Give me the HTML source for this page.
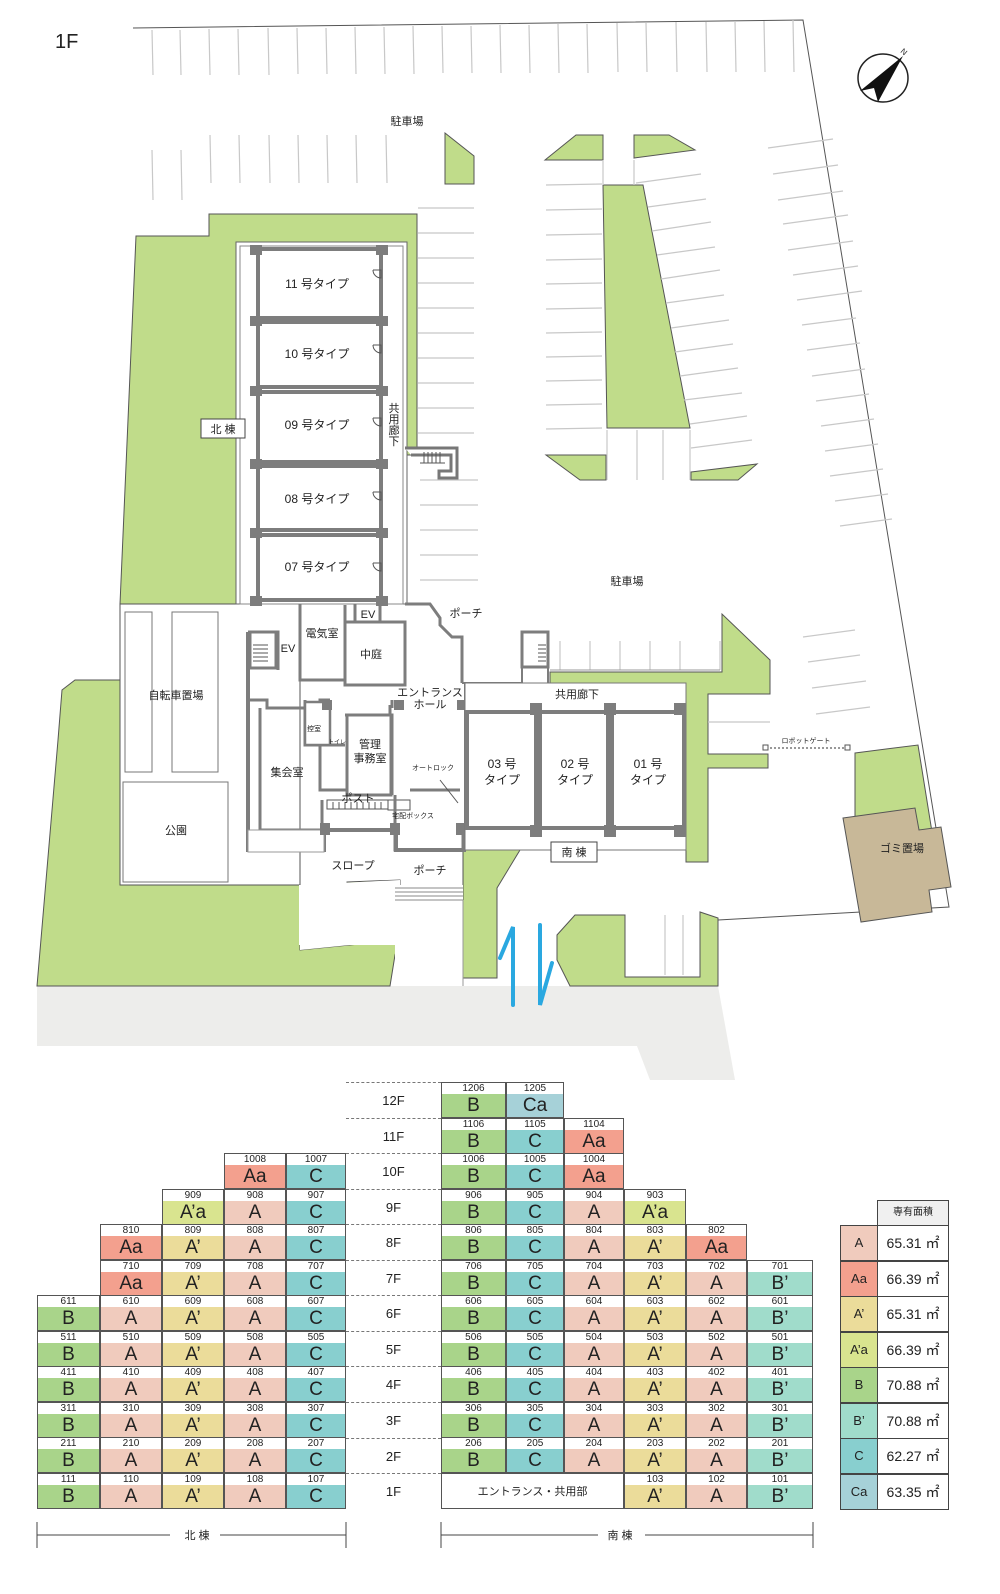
<!DOCTYPE html>
<html><head><meta charset="utf-8">
<style>
body{margin:0;background:#fff;width:1000px;height:1594px;position:relative;overflow:hidden;font-family:"Liberation Sans","Noto Sans CJK JP",sans-serif;color:#222}
svg{position:absolute;left:0;top:0}
svg text{font-family:"Liberation Sans","Noto Sans CJK JP",sans-serif;fill:#222}
.grid{position:absolute;display:grid;grid-template-rows:repeat(12,35.55px)}
.c{box-sizing:border-box;border:1px solid #555;background:#fff;display:flex;flex-direction:column;text-align:center}
.c i{font-style:normal;font-size:10px;line-height:11px;height:11px;background:#fff}
.c b{font-weight:normal;flex:1;font-size:19px;line-height:23px}
.A b{background:#f0cbbd}.Aa b{background:#f3a08e}.Ap b{background:#ebdc9a}.Apa b{background:#d9e48f}
.B b{background:#a9d48a}.Bp b{background:#a0dccb}.C b{background:#88cfcf}.Ca b{background:#a6d1d8}
.fl{position:absolute;left:346px;width:95px;text-align:center;font-size:13px;line-height:35px}
.dl{position:absolute;left:346px;width:95px;border-top:1.5px dashed #777}
.lg{position:absolute;left:840px;top:1200px;width:110px}
.lg div{box-sizing:border-box;position:absolute;border:1px solid #444}
</style></head><body>
<svg width="1000" height="1594" viewBox="0 0 1000 1594">
<polygon points="37,986 718,986 735,1080 650,1080 637,1046 37,1046" fill="#ededeb"/>
<polyline points="133,28 803,20 949,907 718,920" fill="none" stroke="#555" stroke-width="1"/>
<g fill="#c0dc8a" stroke="#555" stroke-width="1">
<polygon points="136,236 209,236 209,214 417,214 417,455 407,455 407,604 120,604 120,680 75,680 62,690 58,740 37,986 390,986 395,955 400,940 300,950 300,885 120,885 120,604"/>
<polygon points="445,133 474,156 474,184 445,184"/>
<polygon points="545,160 576,135 603,135 603,160"/>
<polygon points="634,135 669,135 695,150 634,158"/>
<polygon points="603,185 643,185 690,428 607,428"/>
<polygon points="546,455 606,455 606,480 580,480"/>
<polygon points="691,472 757,464 738,480 691,480"/>
<polygon points="550,672 722,672 722,614 770,660 770,694 708,694 708,754 768,754 768,768 708,768 708,862 686,862 686,685 550,685"/>
<polygon points="855,753 918,745 932,832 855,845"/>
<polygon points="463,850 520,850 497,888 497,978 463,978"/>
<polygon points="575,915 625,915 625,977 700,977 700,912 718,918 718,986 570,986 557,960 557,935"/>
<polygon points="347,882 400,880 400,897 347,897"/>
</g>
<rect x="120" y="604" width="180" height="281" fill="#fff" stroke="#555"/>
<rect x="299" y="885" width="101" height="60" fill="#fff"/>
<polygon points="300,885 400,880 400,940 300,950" fill="#fff"/>
<polygon points="395,885 463,885 463,986 395,986" fill="#fff"/>
<polygon points="843,818 915,808 919,830 941,827 951,887 929,890 932,912 861,922" fill="#c8b898" stroke="#555"/>
<text x="880" y="852" font-size="11">ゴミ置場</text>
<g stroke="#c8c8c8" stroke-width="1.2">
<line x1="152" y1="30" x2="153" y2="75"/><line x1="180" y1="30" x2="181" y2="75"/><line x1="209" y1="29" x2="210" y2="75"/><line x1="238" y1="29" x2="239" y2="75"/><line x1="268" y1="28" x2="269" y2="75"/><line x1="297" y1="28" x2="298" y2="74"/><line x1="326" y1="28" x2="327" y2="74"/><line x1="355" y1="27" x2="356" y2="74"/><line x1="384" y1="27" x2="385" y2="74"/><line x1="413" y1="26" x2="414" y2="74"/><line x1="442" y1="26" x2="443" y2="73"/><line x1="471" y1="26" x2="472" y2="73"/><line x1="500" y1="25" x2="501" y2="73"/><line x1="529" y1="25" x2="530" y2="73"/><line x1="558" y1="24" x2="559" y2="73"/><line x1="587" y1="24" x2="588" y2="73"/><line x1="617" y1="23" x2="618" y2="72"/><line x1="646" y1="23" x2="647" y2="72"/><line x1="676" y1="22" x2="677" y2="72"/><line x1="706" y1="22" x2="707" y2="72"/><line x1="735" y1="21" x2="736" y2="72"/><line x1="764" y1="21" x2="765" y2="72"/><line x1="793" y1="20" x2="794" y2="72"/>
<line x1="152" y1="150" x2="153" y2="200"/><line x1="181" y1="150" x2="182" y2="200"/><line x1="210" y1="135" x2="211" y2="183"/><line x1="239" y1="135" x2="240" y2="183"/><line x1="269" y1="135" x2="270" y2="183"/><line x1="298" y1="135" x2="299" y2="183"/><line x1="327" y1="135" x2="328" y2="183"/><line x1="356" y1="135" x2="357" y2="183"/><line x1="386" y1="135" x2="387" y2="183"/>
<line x1="418" y1="208" x2="474" y2="208"/><line x1="418" y1="233" x2="474" y2="233"/><line x1="418" y1="258" x2="474" y2="258"/><line x1="418" y1="283" x2="474" y2="283"/><line x1="418" y1="308" x2="474" y2="308"/><line x1="418" y1="333" x2="474" y2="333"/><line x1="418" y1="358" x2="474" y2="358"/><line x1="418" y1="383" x2="474" y2="383"/><line x1="418" y1="408" x2="474" y2="408"/><line x1="418" y1="433" x2="474" y2="433"/>
<line x1="420" y1="480" x2="478" y2="480"/><line x1="420" y1="505" x2="478" y2="505"/><line x1="420" y1="530" x2="478" y2="530"/><line x1="420" y1="555" x2="478" y2="555"/><line x1="420" y1="580" x2="478" y2="580"/>
<line x1="546" y1="185" x2="602" y2="184"/><line x1="546" y1="210" x2="602" y2="209"/><line x1="546" y1="235" x2="602" y2="234"/><line x1="546" y1="260" x2="602" y2="259"/><line x1="546" y1="284" x2="602" y2="283"/><line x1="546" y1="309" x2="602" y2="308"/><line x1="546" y1="333" x2="602" y2="332"/><line x1="546" y1="357" x2="602" y2="356"/><line x1="546" y1="381" x2="602" y2="380"/><line x1="546" y1="405" x2="602" y2="404"/><line x1="546" y1="429" x2="602" y2="428"/>
<line x1="603" y1="160" x2="603" y2="185"/><line x1="634" y1="160" x2="634" y2="185"/>
<line x1="607" y1="430" x2="607" y2="480"/><line x1="637" y1="430" x2="637" y2="480"/><line x1="663" y1="430" x2="663" y2="480"/><line x1="690" y1="430" x2="690" y2="480"/>
<line x1="636" y1="183" x2="701" y2="174"/><line x1="648" y1="207" x2="706" y2="199"/><line x1="652" y1="231" x2="711" y2="222"/><line x1="657" y1="255" x2="715" y2="247"/><line x1="661" y1="279" x2="720" y2="270"/><line x1="666" y1="303" x2="724" y2="295"/><line x1="671" y1="328" x2="729" y2="320"/><line x1="675" y1="352" x2="733" y2="344"/><line x1="680" y1="376" x2="738" y2="368"/><line x1="684" y1="400" x2="742" y2="393"/><line x1="690" y1="424" x2="747" y2="416"/><line x1="691" y1="448" x2="752" y2="440"/>
<line x1="768" y1="148" x2="833" y2="139"/><line x1="773" y1="174" x2="838" y2="165"/><line x1="778" y1="200" x2="843" y2="191"/><line x1="783" y1="224" x2="848" y2="215"/><line x1="788" y1="250" x2="853" y2="241"/><line x1="793" y1="275" x2="858" y2="266"/><line x1="797" y1="300" x2="862" y2="291"/><line x1="802" y1="325" x2="856" y2="318"/><line x1="807" y1="350" x2="860" y2="343"/><line x1="812" y1="376" x2="865" y2="369"/><line x1="816" y1="401" x2="869" y2="394"/><line x1="821" y1="426" x2="874" y2="419"/><line x1="825" y1="451" x2="878" y2="444"/><line x1="830" y1="476" x2="883" y2="469"/><line x1="835" y1="501" x2="888" y2="494"/><line x1="840" y1="526" x2="892" y2="519"/><line x1="803" y1="637" x2="855" y2="630"/><line x1="808" y1="662" x2="860" y2="655"/><line x1="812" y1="688" x2="866" y2="681"/><line x1="816" y1="714" x2="870" y2="707"/>
<line x1="560" y1="641" x2="560" y2="670"/><line x1="590" y1="641" x2="590" y2="670"/><line x1="620" y1="641" x2="620" y2="670"/><line x1="650" y1="641" x2="650" y2="670"/><line x1="680" y1="641" x2="680" y2="670"/><line x1="720" y1="641" x2="720" y2="670"/>
<line x1="708" y1="722" x2="770" y2="722"/><line x1="665" y1="915" x2="665" y2="975"/><line x1="683" y1="915" x2="683" y2="975"/>
</g>
<line x1="550" y1="670" x2="720" y2="670" stroke="#999"/>
<rect x="125" y="612" width="27" height="160" fill="#fff" stroke="#777"/>
<rect x="172" y="612" width="46" height="160" fill="#fff" stroke="#777"/>
<rect x="123" y="782" width="105" height="100" fill="#fff" stroke="#777"/>
<rect x="236" y="242" width="171" height="362" fill="#fff" stroke="#666"/>
<rect x="240" y="246" width="163" height="358" fill="#fff" stroke="#888"/>
<g fill="#fff" stroke="#7d7d7d" stroke-width="4">
<rect x="258" y="249" width="123" height="69"/>
<rect x="258" y="322" width="123" height="65"/>
<rect x="258" y="392" width="123" height="70"/>
<rect x="258" y="466" width="123" height="64"/>
<rect x="258" y="535" width="123" height="65"/>
</g>
<g fill="#7d7d7d">
<rect x="250" y="245" width="12" height="10"/><rect x="376" y="245" width="12" height="10"/>
<rect x="250" y="316" width="12" height="10"/><rect x="376" y="316" width="12" height="10"/>
<rect x="250" y="386" width="12" height="10"/><rect x="376" y="386" width="12" height="10"/>
<rect x="250" y="459" width="12" height="10"/><rect x="376" y="459" width="12" height="10"/>
<rect x="250" y="528" width="12" height="10"/><rect x="376" y="528" width="12" height="10"/>
<rect x="250" y="596" width="12" height="10"/><rect x="376" y="596" width="12" height="10"/>
</g>
<g fill="none" stroke="#555" stroke-width="1">
<path d="M373,270 h8 v8 a8,8 0 0 1 -8,-8"/><path d="M373,345 h8 v8 a8,8 0 0 1 -8,-8"/><path d="M373,418 h8 v8 a8,8 0 0 1 -8,-8"/><path d="M373,492 h8 v8 a8,8 0 0 1 -8,-8"/><path d="M373,563 h8 v8 a8,8 0 0 1 -8,-8"/>
</g>
<path d="M405,448 h52 v30 h-18 v-7 h12 v-16 h-40" fill="#fff" stroke="#777" stroke-width="3"/>
<g stroke="#555"><line x1="424" y1="452" x2="424" y2="463"/><line x1="428" y1="452" x2="428" y2="463"/><line x1="432" y1="452" x2="432" y2="463"/><line x1="436" y1="452" x2="436" y2="463"/><line x1="440" y1="452" x2="440" y2="463"/><line x1="420" y1="463" x2="445" y2="463"/></g>
<path d="M248,632 v218 h76 v-20 h72 v20 h68 v-20 h2 V683" fill="none" stroke="#7d7d7d" stroke-width="4"/>
<path d="M248,632 h30 v38 M300,604 v76 h45 v5 h60 v-63 h-60 v-17 M355,604 v18 M380,604 v18" fill="none" stroke="#7d7d7d" stroke-width="3"/>
<rect x="345" y="622" width="60" height="63" fill="#fff" stroke="#7d7d7d" stroke-width="3"/>
<rect x="250" y="632" width="26" height="36" fill="#fff" stroke="#7d7d7d" stroke-width="3"/>
<g stroke="#555"><line x1="253" y1="645" x2="268" y2="645"/><line x1="253" y1="649" x2="268" y2="649"/><line x1="253" y1="653" x2="268" y2="653"/><line x1="253" y1="657" x2="268" y2="657"/><line x1="253" y1="661" x2="268" y2="661"/></g>
<path d="M405,604 h25 l10,14 v7 l12,12 h10 v46" fill="none" stroke="#7d7d7d" stroke-width="3"/>
<path d="M249,700 h18 v8 h53 v-8 h10 M260,708 v122 h62 v-30 M320,720 v70 h70 v-85 M305,700 v45 h40 M345,715 h47 v80 M392,700 v8" fill="none" stroke="#7d7d7d" stroke-width="3"/>
<rect x="347" y="715" width="44" height="80" fill="#fff" stroke="#7d7d7d" stroke-width="3"/>
<rect x="305" y="702" width="25" height="43" fill="#fff" stroke="#7d7d7d" stroke-width="2.5"/>
<rect x="327" y="800" width="63" height="9" fill="#fff" stroke="#555"/>
<g stroke="#555"><line x1="333" y1="802" x2="333" y2="809"/><line x1="339" y1="802" x2="339" y2="809"/><line x1="345" y1="802" x2="345" y2="809"/><line x1="351" y1="802" x2="351" y2="809"/><line x1="357" y1="802" x2="357" y2="809"/><line x1="363" y1="802" x2="363" y2="809"/><line x1="369" y1="802" x2="369" y2="809"/><line x1="375" y1="802" x2="375" y2="809"/><line x1="381" y1="802" x2="381" y2="809"/></g>
<rect x="388" y="800" width="22" height="10" fill="#fff" stroke="#555"/>
<path d="M410,790 h50 M395,795 v55 h68 v-20" fill="none" stroke="#7d7d7d" stroke-width="3"/>
<line x1="440" y1="780" x2="458" y2="803" stroke="#555"/>
<rect x="248" y="830" width="76" height="22" fill="#fff" stroke="#999"/>
<rect x="320" y="823" width="10" height="12" fill="#7d7d7d"/><rect x="390" y="823" width="10" height="12" fill="#7d7d7d"/><rect x="456" y="823" width="10" height="12" fill="#7d7d7d"/>
<rect x="322" y="700" width="10" height="10" fill="#7d7d7d"/><rect x="394" y="700" width="10" height="10" fill="#7d7d7d"/><rect x="457" y="700" width="10" height="10" fill="#7d7d7d"/>
<rect x="522" y="632" width="26" height="35" fill="#fff" stroke="#7d7d7d" stroke-width="3"/>
<g stroke="#555"><line x1="538" y1="645" x2="546" y2="645"/><line x1="538" y1="649" x2="546" y2="649"/><line x1="538" y1="653" x2="546" y2="653"/><line x1="538" y1="657" x2="546" y2="657"/><line x1="538" y1="661" x2="546" y2="661"/></g>
<path d="M462,683 h60 v-16 M548,632 v51" fill="none" stroke="#7d7d7d" stroke-width="2"/>
<rect x="465" y="683" width="221" height="167" fill="#fff" stroke="#777"/>
<g fill="#fff" stroke="#7d7d7d" stroke-width="4">
<rect x="467" y="712" width="69" height="116"/>
<rect x="540" y="712" width="68" height="116"/>
<rect x="612" y="712" width="72" height="116"/>
</g>
<g fill="#7d7d7d">
<rect x="530" y="703" width="12" height="12"/><rect x="604" y="703" width="12" height="12"/><rect x="674" y="703" width="12" height="12"/>
<rect x="530" y="825" width="12" height="12"/><rect x="604" y="825" width="12" height="12"/><rect x="674" y="825" width="12" height="12"/>
</g>
<line x1="766" y1="748" x2="848" y2="748" stroke="#777" stroke-width="1.5" stroke-dasharray="2,2"/>
<rect x="763" y="745" width="5" height="5" fill="#fff" stroke="#555"/><rect x="845" y="745" width="5" height="5" fill="#fff" stroke="#555"/>
<text x="806" y="743" font-size="7" text-anchor="middle">ロボットゲート</text>
<g stroke="#888"><line x1="395" y1="888" x2="463" y2="888"/><line x1="395" y1="892" x2="463" y2="892"/><line x1="395" y1="896" x2="463" y2="896"/><line x1="395" y1="900" x2="463" y2="900"/></g>
<line x1="463" y1="900" x2="463" y2="986" stroke="#999"/>
<g stroke="#2aa8e0" stroke-width="4" fill="none" stroke-linecap="round"><polyline points="500,958 513,927 513,1005"/><polyline points="540,925 540,1005 552,963"/></g>
<ellipse cx="883" cy="78" rx="25" ry="24" fill="#fff" stroke="#222" stroke-width="1.5"/>
<polygon points="903,56 878,102 874,88 860,91" fill="#111"/>
<text x="900" y="52" font-size="8" transform="rotate(40 900 52)">N</text>
<text x="55" y="48" font-size="20" font-family="Liberation Sans">1F</text>
<g font-size="11" text-anchor="middle">
<text x="407" y="125">駐車場</text><text x="627" y="585">駐車場</text>
<text x="317" y="288" font-size="12">11 号タイプ</text><text x="317" y="358" font-size="12">10 号タイプ</text><text x="317" y="429" font-size="12">09 号タイプ</text><text x="317" y="503" font-size="12">08 号タイプ</text><text x="317" y="571" font-size="12">07 号タイプ</text>
<text x="394" y="412">共</text><text x="394" y="423">用</text><text x="394" y="434">廊</text><text x="394" y="445">下</text>
<text x="466" y="617">ポーチ</text><text x="368" y="618">EV</text><text x="322" y="637">電気室</text><text x="371" y="658">中庭</text><text x="288" y="652">EV</text>
<text x="430" y="696">エントランス</text><text x="430" y="708">ホール</text><text x="577" y="698">共用廊下</text>
<text x="176" y="699">自転車置場</text><text x="287" y="776">集会室</text><text x="314" y="731" font-size="7">控室</text><text x="337" y="744" font-size="6">トイレ</text>
<text x="370" y="748">管理</text><text x="370" y="762">事務室</text><text x="433" y="770" font-size="7">オートロック</text>
<text x="502" y="768" font-size="12">03 号</text><text x="502" y="784" font-size="12">タイプ</text>
<text x="575" y="768" font-size="12">02 号</text><text x="575" y="784" font-size="12">タイプ</text>
<text x="648" y="768" font-size="12">01 号</text><text x="648" y="784" font-size="12">タイプ</text>
<text x="358" y="802">ポスト</text><text x="413" y="818" font-size="7">宅配ボックス</text><text x="176" y="834">公園</text>
<text x="353" y="869">スロープ</text><text x="430" y="874">ポーチ</text>
</g>
<rect x="201" y="419" width="44" height="19" fill="#fff" stroke="#444"/><text x="223" y="433" font-size="11" text-anchor="middle">北 棟</text>
<rect x="551" y="842" width="46" height="20" fill="#fff" stroke="#444"/><text x="574" y="856" font-size="11" text-anchor="middle">南 棟</text>
<g stroke="#444" stroke-width="1"><line x1="37" y1="1535" x2="170" y2="1535"/><line x1="220" y1="1535" x2="346" y2="1535"/><line x1="37" y1="1522" x2="37" y2="1548"/><line x1="346" y1="1522" x2="346" y2="1548"/>
<line x1="441" y1="1535" x2="598" y2="1535"/><line x1="645" y1="1535" x2="813" y2="1535"/><line x1="441" y1="1522" x2="441" y2="1548"/><line x1="813" y1="1522" x2="813" y2="1548"/></g>
<text x="197" y="1539" font-size="11" text-anchor="middle">北 棟</text><text x="620" y="1539" font-size="11" text-anchor="middle">南 棟</text>
</svg>

<div class="dl" style="top:1082px"></div><div class="dl" style="top:1117.5px"></div><div class="dl" style="top:1153px"></div><div class="dl" style="top:1188.6px"></div><div class="dl" style="top:1224px"></div><div class="dl" style="top:1259.7px"></div><div class="dl" style="top:1295.3px"></div><div class="dl" style="top:1330.8px"></div><div class="dl" style="top:1366.4px"></div><div class="dl" style="top:1402px"></div><div class="dl" style="top:1437.5px"></div><div class="dl" style="top:1473px"></div>
<div class="fl" style="top:1083px">12F</div><div class="fl" style="top:1118.5px">11F</div><div class="fl" style="top:1154px">10F</div><div class="fl" style="top:1189.6px">9F</div><div class="fl" style="top:1225px">8F</div><div class="fl" style="top:1260.7px">7F</div><div class="fl" style="top:1296.3px">6F</div><div class="fl" style="top:1331.8px">5F</div><div class="fl" style="top:1367.4px">4F</div><div class="fl" style="top:1403px">3F</div><div class="fl" style="top:1438.5px">2F</div><div class="fl" style="top:1474px">1F</div>

<div class="grid" style="left:37px;top:1082px;grid-template-columns:63px 62px 62px 62px 60px">
<div class="c Aa" style="grid-area:3/4"><i>1008</i><b>Aa</b></div><div class="c C" style="grid-area:3/5"><i>1007</i><b>C</b></div>
<div class="c Apa" style="grid-area:4/3"><i>909</i><b>A’a</b></div><div class="c A" style="grid-area:4/4"><i>908</i><b>A</b></div><div class="c C" style="grid-area:4/5"><i>907</i><b>C</b></div>
<div class="c Aa" style="grid-area:5/2"><i>810</i><b>Aa</b></div><div class="c Ap" style="grid-area:5/3"><i>809</i><b>A’</b></div><div class="c A" style="grid-area:5/4"><i>808</i><b>A</b></div><div class="c C" style="grid-area:5/5"><i>807</i><b>C</b></div>
<div class="c Aa" style="grid-area:6/2"><i>710</i><b>Aa</b></div><div class="c Ap" style="grid-area:6/3"><i>709</i><b>A’</b></div><div class="c A" style="grid-area:6/4"><i>708</i><b>A</b></div><div class="c C" style="grid-area:6/5"><i>707</i><b>C</b></div>
<div class="c B" style="grid-area:7/1"><i>611</i><b>B</b></div><div class="c A" style="grid-area:7/2"><i>610</i><b>A</b></div><div class="c Ap" style="grid-area:7/3"><i>609</i><b>A’</b></div><div class="c A" style="grid-area:7/4"><i>608</i><b>A</b></div><div class="c C" style="grid-area:7/5"><i>607</i><b>C</b></div>
<div class="c B" style="grid-area:8/1"><i>511</i><b>B</b></div><div class="c A" style="grid-area:8/2"><i>510</i><b>A</b></div><div class="c Ap" style="grid-area:8/3"><i>509</i><b>A’</b></div><div class="c A" style="grid-area:8/4"><i>508</i><b>A</b></div><div class="c C" style="grid-area:8/5"><i>505</i><b>C</b></div>
<div class="c B" style="grid-area:9/1"><i>411</i><b>B</b></div><div class="c A" style="grid-area:9/2"><i>410</i><b>A</b></div><div class="c Ap" style="grid-area:9/3"><i>409</i><b>A’</b></div><div class="c A" style="grid-area:9/4"><i>408</i><b>A</b></div><div class="c C" style="grid-area:9/5"><i>407</i><b>C</b></div>
<div class="c B" style="grid-area:10/1"><i>311</i><b>B</b></div><div class="c A" style="grid-area:10/2"><i>310</i><b>A</b></div><div class="c Ap" style="grid-area:10/3"><i>309</i><b>A’</b></div><div class="c A" style="grid-area:10/4"><i>308</i><b>A</b></div><div class="c C" style="grid-area:10/5"><i>307</i><b>C</b></div>
<div class="c B" style="grid-area:11/1"><i>211</i><b>B</b></div><div class="c A" style="grid-area:11/2"><i>210</i><b>A</b></div><div class="c Ap" style="grid-area:11/3"><i>209</i><b>A’</b></div><div class="c A" style="grid-area:11/4"><i>208</i><b>A</b></div><div class="c C" style="grid-area:11/5"><i>207</i><b>C</b></div>
<div class="c B" style="grid-area:12/1"><i>111</i><b>B</b></div><div class="c A" style="grid-area:12/2"><i>110</i><b>A</b></div><div class="c Ap" style="grid-area:12/3"><i>109</i><b>A’</b></div><div class="c A" style="grid-area:12/4"><i>108</i><b>A</b></div><div class="c C" style="grid-area:12/5"><i>107</i><b>C</b></div>
</div>

<div class="grid" style="left:441px;top:1082px;grid-template-columns:65px 58px 60px 62px 61px 66px">
<div class="c B" style="grid-area:1/1"><i>1206</i><b>B</b></div><div class="c Ca" style="grid-area:1/2"><i>1205</i><b>Ca</b></div>
<div class="c B" style="grid-area:2/1"><i>1106</i><b>B</b></div><div class="c C" style="grid-area:2/2"><i>1105</i><b>C</b></div><div class="c Aa" style="grid-area:2/3"><i>1104</i><b>Aa</b></div>
<div class="c B" style="grid-area:3/1"><i>1006</i><b>B</b></div><div class="c C" style="grid-area:3/2"><i>1005</i><b>C</b></div><div class="c Aa" style="grid-area:3/3"><i>1004</i><b>Aa</b></div>
<div class="c B" style="grid-area:4/1"><i>906</i><b>B</b></div><div class="c C" style="grid-area:4/2"><i>905</i><b>C</b></div><div class="c A" style="grid-area:4/3"><i>904</i><b>A</b></div><div class="c Apa" style="grid-area:4/4"><i>903</i><b>A’a</b></div>
<div class="c B" style="grid-area:5/1"><i>806</i><b>B</b></div><div class="c C" style="grid-area:5/2"><i>805</i><b>C</b></div><div class="c A" style="grid-area:5/3"><i>804</i><b>A</b></div><div class="c Ap" style="grid-area:5/4"><i>803</i><b>A’</b></div><div class="c Aa" style="grid-area:5/5"><i>802</i><b>Aa</b></div>
<div class="c B" style="grid-area:6/1"><i>706</i><b>B</b></div><div class="c C" style="grid-area:6/2"><i>705</i><b>C</b></div><div class="c A" style="grid-area:6/3"><i>704</i><b>A</b></div><div class="c Ap" style="grid-area:6/4"><i>703</i><b>A’</b></div><div class="c A" style="grid-area:6/5"><i>702</i><b>A</b></div><div class="c Bp" style="grid-area:6/6"><i>701</i><b>B’</b></div>
<div class="c B" style="grid-area:7/1"><i>606</i><b>B</b></div><div class="c C" style="grid-area:7/2"><i>605</i><b>C</b></div><div class="c A" style="grid-area:7/3"><i>604</i><b>A</b></div><div class="c Ap" style="grid-area:7/4"><i>603</i><b>A’</b></div><div class="c A" style="grid-area:7/5"><i>602</i><b>A</b></div><div class="c Bp" style="grid-area:7/6"><i>601</i><b>B’</b></div>
<div class="c B" style="grid-area:8/1"><i>506</i><b>B</b></div><div class="c C" style="grid-area:8/2"><i>505</i><b>C</b></div><div class="c A" style="grid-area:8/3"><i>504</i><b>A</b></div><div class="c Ap" style="grid-area:8/4"><i>503</i><b>A’</b></div><div class="c A" style="grid-area:8/5"><i>502</i><b>A</b></div><div class="c Bp" style="grid-area:8/6"><i>501</i><b>B’</b></div>
<div class="c B" style="grid-area:9/1"><i>406</i><b>B</b></div><div class="c C" style="grid-area:9/2"><i>405</i><b>C</b></div><div class="c A" style="grid-area:9/3"><i>404</i><b>A</b></div><div class="c Ap" style="grid-area:9/4"><i>403</i><b>A’</b></div><div class="c A" style="grid-area:9/5"><i>402</i><b>A</b></div><div class="c Bp" style="grid-area:9/6"><i>401</i><b>B’</b></div>
<div class="c B" style="grid-area:10/1"><i>306</i><b>B</b></div><div class="c C" style="grid-area:10/2"><i>305</i><b>C</b></div><div class="c A" style="grid-area:10/3"><i>304</i><b>A</b></div><div class="c Ap" style="grid-area:10/4"><i>303</i><b>A’</b></div><div class="c A" style="grid-area:10/5"><i>302</i><b>A</b></div><div class="c Bp" style="grid-area:10/6"><i>301</i><b>B’</b></div>
<div class="c B" style="grid-area:11/1"><i>206</i><b>B</b></div><div class="c C" style="grid-area:11/2"><i>205</i><b>C</b></div><div class="c A" style="grid-area:11/3"><i>204</i><b>A</b></div><div class="c Ap" style="grid-area:11/4"><i>203</i><b>A’</b></div><div class="c A" style="grid-area:11/5"><i>202</i><b>A</b></div><div class="c Bp" style="grid-area:11/6"><i>201</i><b>B’</b></div>
<div class="c" style="grid-row:12;grid-column:1/4;justify-content:center;font-size:11px">エントランス・共用部</div><div class="c Ap" style="grid-area:12/4"><i>103</i><b>A’</b></div><div class="c A" style="grid-area:12/5"><i>102</i><b>A</b></div><div class="c Bp" style="grid-area:12/6"><i>101</i><b>B’</b></div>
</div>

<div class="lg">
<div style="left:37px;top:0;width:72px;height:26px;background:#f0f0f0;font-size:10px;text-align:center;line-height:24px">専有面積</div>
<div style="left:0;top:25px;width:38px;height:36px;background:#f0cbbd;text-align:center;line-height:34px;font-size:13px">A</div><div style="left:37px;top:25px;width:72px;height:36px;font-size:14px;text-align:center;line-height:34px">65.31 ㎡</div>
<div style="left:0;top:60.5px;width:38px;height:36px;background:#f3a08e;text-align:center;line-height:34px;font-size:13px">Aa</div><div style="left:37px;top:60.5px;width:72px;height:36px;font-size:14px;text-align:center;line-height:34px">66.39 ㎡</div>
<div style="left:0;top:96px;width:38px;height:36px;background:#ebdc9a;text-align:center;line-height:34px;font-size:13px">A’</div><div style="left:37px;top:96px;width:72px;height:36px;font-size:14px;text-align:center;line-height:34px">65.31 ㎡</div>
<div style="left:0;top:131.5px;width:38px;height:36px;background:#d9e48f;text-align:center;line-height:34px;font-size:13px">A’a</div><div style="left:37px;top:131.5px;width:72px;height:36px;font-size:14px;text-align:center;line-height:34px">66.39 ㎡</div>
<div style="left:0;top:167px;width:38px;height:36px;background:#a9d48a;text-align:center;line-height:34px;font-size:13px">B</div><div style="left:37px;top:167px;width:72px;height:36px;font-size:14px;text-align:center;line-height:34px">70.88 ㎡</div>
<div style="left:0;top:202.5px;width:38px;height:36px;background:#a0dccb;text-align:center;line-height:34px;font-size:13px">B’</div><div style="left:37px;top:202.5px;width:72px;height:36px;font-size:14px;text-align:center;line-height:34px">70.88 ㎡</div>
<div style="left:0;top:238px;width:38px;height:36px;background:#88cfcf;text-align:center;line-height:34px;font-size:13px">C</div><div style="left:37px;top:238px;width:72px;height:36px;font-size:14px;text-align:center;line-height:34px">62.27 ㎡</div>
<div style="left:0;top:273.5px;width:38px;height:36px;background:#a6d1d8;text-align:center;line-height:34px;font-size:13px">Ca</div><div style="left:37px;top:273.5px;width:72px;height:36px;font-size:14px;text-align:center;line-height:34px">63.35 ㎡</div>
</div>
</body></html>
